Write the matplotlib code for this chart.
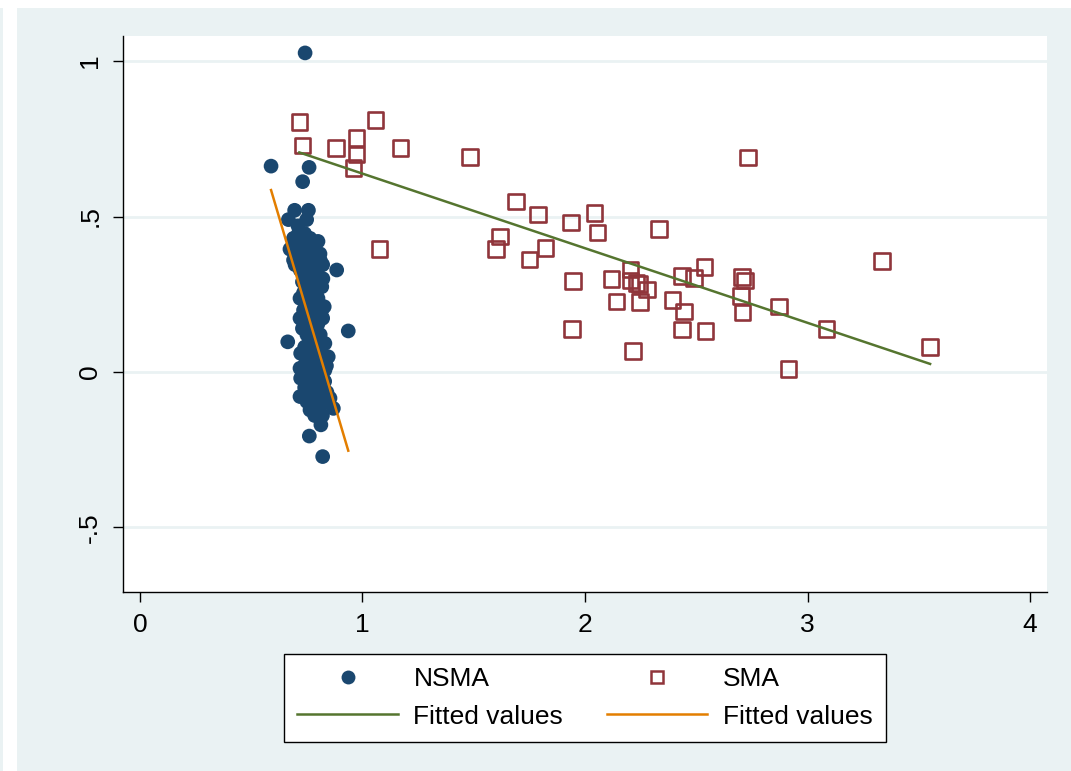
import matplotlib
matplotlib.use("Agg")
import matplotlib.pyplot as plt
from matplotlib.lines import Line2D
from matplotlib.patches import Rectangle

# ---------------- data ----------------
nsma_x = [0.695, 0.757, 0.667, 0.749, 0.71, 0.712, 0.74, 0.764, 0.725,
          0.70, 0.74, 0.775, 0.674, 0.72, 0.76, 0.809, 0.785, 0.70,
          0.735, 0.77, 0.697, 0.821, 0.75, 0.79, 0.884, 0.72, 0.77,
          0.745, 0.80, 0.73, 0.775, 0.81, 0.817, 0.75, 0.735, 0.79,
          0.719, 0.77, 0.80, 0.75, 0.79, 0.817, 0.735, 0.77, 0.755, 0.80,
          0.719, 0.821, 0.78, 0.74, 0.765, 0.80, 0.73, 0.79, 0.936,
          0.75, 0.78, 0.81, 0.664, 0.76, 0.79, 0.831, 0.74, 0.775, 0.81,
          0.755, 0.79, 0.846, 0.77, 0.80, 0.745, 0.785, 0.82,
          0.719, 0.765, 0.80, 0.831, 0.745, 0.78, 0.81, 0.76, 0.795, 0.83,
          0.74, 0.775, 0.815, 0.755, 0.79, 0.84, 0.719, 0.77, 0.81, 0.854,
          0.75, 0.79, 0.83, 0.775, 0.81, 0.869, 0.764, 0.80, 0.785, 0.82,
          0.813, 0.761, 0.821, 0.589, 0.760, 0.731, 0.742,
          0.80, 0.822, 0.69, 0.828, 0.838, 0.722, 0.722, 0.81, 0.69]
nsma_y = [0.52, 0.52, 0.49, 0.49, 0.47, 0.445, 0.445, 0.43, 0.43,
          0.41, 0.41, 0.41, 0.395, 0.395, 0.395, 0.38, 0.38, 0.38,
          0.365, 0.365, 0.345, 0.345, 0.345, 0.345, 0.328, 0.328, 0.328,
          0.31, 0.31, 0.29, 0.29, 0.29, 0.274, 0.274, 0.255, 0.255,
          0.237, 0.237, 0.237, 0.22, 0.22, 0.199, 0.199, 0.199, 0.185, 0.185,
          0.173, 0.173, 0.173, 0.155, 0.155, 0.155, 0.14, 0.14, 0.132,
          0.12, 0.12, 0.12, 0.097, 0.097, 0.097, 0.092, 0.08, 0.08, 0.08,
          0.065, 0.065, 0.049, 0.049, 0.049, 0.03, 0.03, 0.03,
          0.012, 0.012, 0.012, 0.006, -0.01, -0.01, -0.01, -0.03, -0.03, -0.03,
          -0.05, -0.05, -0.05, -0.065, -0.065, -0.065, -0.079, -0.079, -0.079, -0.084,
          -0.095, -0.095, -0.095, -0.11, -0.11, -0.117, -0.122, -0.122, -0.14, -0.14,
          -0.17, -0.206, -0.272, 0.662, 0.658, 0.612, 1.026,
          0.42, 0.30, 0.36, 0.21, 0.02, 0.06, -0.02, 0.36, 0.43]

sma_x = [0.716, 0.731, 0.882, 0.974, 0.974, 0.960, 1.058, 1.170, 1.076, 1.482, 2.733,
         1.689, 1.789, 1.936, 2.042, 2.057, 2.333, 1.617, 1.599, 1.823, 1.750,
         2.204, 2.120, 1.945, 2.204, 2.232, 2.244, 2.279, 2.141, 2.247,
         2.437, 2.489, 2.538, 2.394, 2.446, 2.706, 2.719, 2.700, 2.707, 2.872,
         3.335, 1.942, 2.437, 2.542, 3.085, 2.216, 2.915, 3.551]
sma_y = [0.804, 0.728, 0.721, 0.753, 0.700, 0.656, 0.811, 0.721, 0.395, 0.692, 0.689,
         0.548, 0.506, 0.481, 0.512, 0.448, 0.460, 0.436, 0.395, 0.399, 0.361,
         0.330, 0.299, 0.292, 0.294, 0.287, 0.283, 0.266, 0.227, 0.225,
         0.308, 0.303, 0.337, 0.231, 0.194, 0.305, 0.294, 0.244, 0.192, 0.211,
         0.357, 0.139, 0.137, 0.132, 0.139, 0.068, 0.009, 0.081]

# fitted values
fit_sma_x = [0.716, 3.551]
fit_sma_y = [0.706, 0.026]
fit_nsma_x = [0.589, 0.936]
fit_nsma_y = [0.585, -0.253]

x_ticks = [0, 1, 2, 3, 4]
x_ticklabels = ["0", "1", "2", "3", "4"]
y_ticks = [-0.5, 0, 0.5, 1]
y_ticklabels = ["-.5", "0", ".5", "1"]
legend_labels = ["NSMA", "SMA", "Fitted values", "Fitted values"]

# ---------------- style ----------------
BG = "#EAF2F3"
NAVY = "#1A476F"
MAROON = "#90353B"
GREEN = "#55752F"
ORANGE = "#E37E00"
FS = 19

plt.rcParams["font.family"] = ["Liberation Sans", "DejaVu Sans"]

fig = plt.figure(figsize=(10.71, 7.71), dpi=100, facecolor=BG)
W, H = 1071, 771
# white strips at the top and left edge
fig.patches.append(Rectangle((3 / W, 0), 14 / W, 1, transform=fig.transFigure,
                             facecolor="white", edgecolor="none", zorder=-5))
fig.patches.append(Rectangle((0, 1 - 8 / H), 1, 8 / H, transform=fig.transFigure,
                             facecolor="white", edgecolor="none", zorder=-5))

ax = fig.add_axes([123 / W, 1 - 592 / H, (1047 - 123) / W, (592 - 36) / H])
ax.set_facecolor("white")

ax.scatter(nsma_x, nsma_y, s=112, color=NAVY, edgecolors="none", zorder=3)
ax.scatter(sma_x, sma_y, s=125, marker="s", facecolors="none",
           edgecolors=MAROON, linewidths=1.9, zorder=4)
ax.plot(fit_sma_x, fit_sma_y, color=GREEN, lw=1.8, zorder=5)
ax.plot(fit_nsma_x, fit_nsma_y, color=ORANGE, lw=1.8, zorder=6)

ax.set_xlim(-0.0764, 4.0764)
ax.set_ylim(-0.7074, 1.0804)

ax.set_xticks(x_ticks)
ax.set_xticklabels(x_ticklabels)
ax.set_yticks(y_ticks)
ax.set_yticklabels(y_ticklabels, rotation=90, va="center")
ax.tick_params(axis="both", labelsize=FS, length=7, width=1, pad=8, color="black")

for y in y_ticks:
    ax.axhline(y, color=BG, lw=2, zorder=1)

for s in ["top", "right"]:
    ax.spines[s].set_visible(False)
for s in ["left", "bottom"]:
    ax.spines[s].set_color("black")
    ax.spines[s].set_linewidth(1)

handles = [
    Line2D([], [], ls="none", marker="o", markersize=10, color=NAVY, markeredgecolor="none"),
    Line2D([], [], color=GREEN, lw=1.8),
    Line2D([], [], ls="none", marker="s", markersize=8, markerfacecolor="none",
           markeredgecolor=MAROON, markeredgewidth=1.8),
    Line2D([], [], color=ORANGE, lw=1.8),
]
labels = [legend_labels[0], legend_labels[2], legend_labels[1], legend_labels[3]]
leg = fig.legend(handles, labels, ncol=2, loc="center",
                 bbox_to_anchor=(585 / W, 1 - 698 / H), fontsize=FS,
                 frameon=True, fancybox=False, edgecolor="black", facecolor="white",
                 framealpha=1, handlelength=3.8, handletextpad=0.6,
                 columnspacing=1.65, labelspacing=0.5, borderpad=0.5)
leg.get_frame().set_linewidth(1)

fig.savefig("out.png", dpi=100, facecolor=BG)
